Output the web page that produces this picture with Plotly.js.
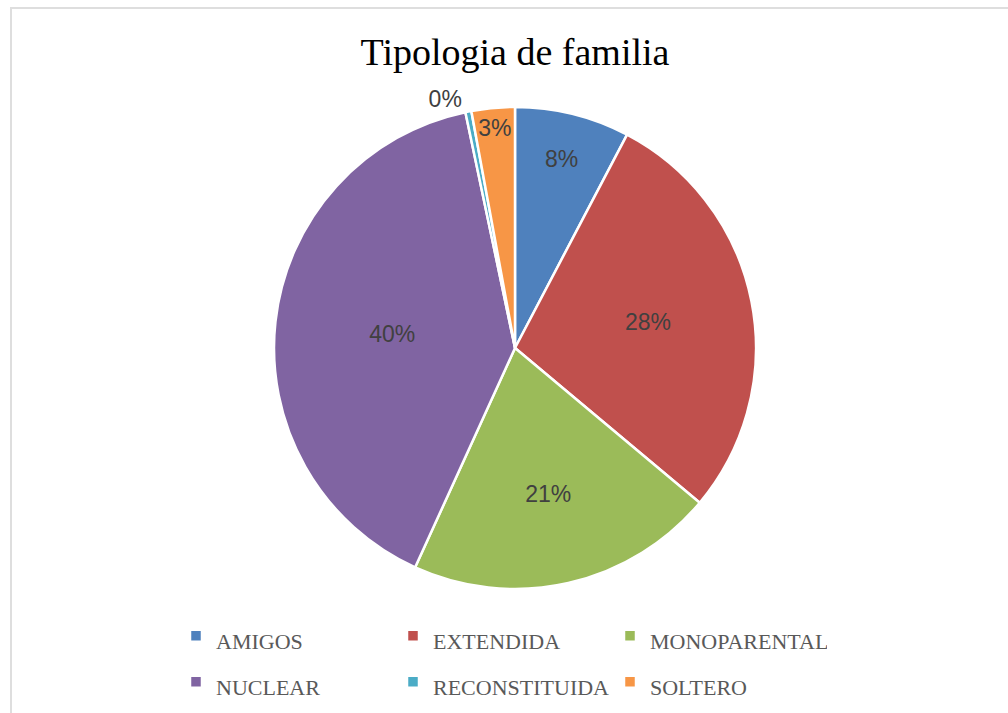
<!DOCTYPE html>
<html>
<head>
<meta charset="utf-8">
<script src="https://cdn.plot.ly/plotly-3.0.1.min.js"></script>
<style>
  html, body { margin: 0; padding: 0; background: #ffffff; }
  #wrap { position: relative; width: 1008px; height: 713px; overflow: hidden; }
  #chart { position: absolute; left: 0; top: 0; width: 1008px; height: 713px; }
  #frame { position: absolute; left: 10px; top: 7px; width: 1100px; height: 800px;
           border: 2px solid #dedede; pointer-events: none; box-sizing: border-box; }
</style>
</head>
<body>
<div id="wrap">
  <div id="chart"></div>
  <div id="frame"></div>
</div>
<script>
const categories = ['AMIGOS', 'EXTENDIDA', 'MONOPARENTAL', 'NUCLEAR', 'RECONSTITUIDA', 'SOLTERO'];
const shares = [7.7, 28.4, 20.7, 39.9, 0.4, 2.9];
const sliceColors = ['#4F81BD', '#C0504D', '#9BBB59', '#8064A2', '#4BACC6', '#F79646'];
const chartTitle = 'Tipologia de familia';

// legend rows are spaced like the original; the visible legend text uses a smaller size
const legendLabels = categories.map(c => '<span style="font-size:22px">' + c + '</span>');
const labelPlacement = ['inside', 'inside', 'inside', 'inside', 'outside', 'inside'];

const trace = {
  type: 'pie',
  labels: legendLabels,
  values: shares,
  sort: false,
  direction: 'clockwise',
  rotation: 0,
  marker: { colors: sliceColors, line: { color: '#ffffff', width: 2.5 } },
  texttemplate: '%{percent:.0%}',
  textposition: labelPlacement,
  insidetextorientation: 'horizontal',
  textfont: { family: 'Liberation Sans, Arial, sans-serif', size: 23, color: '#404040' },
  outsidetextfont: { family: 'Liberation Sans, Arial, sans-serif', size: 23, color: '#404040' },
  hoverinfo: 'label+percent',
  domain: { x: [0.0273, 1], y: [0, 1] }
};

const layout = {
  width: 1008,
  height: 713,
  paper_bgcolor: '#ffffff',
  plot_bgcolor: '#ffffff',
  margin: { l: 176, r: 172, t: 107, b: 124, autoexpand: false },
  title: {
    text: chartTitle,
    font: { family: 'Liberation Serif, Times New Roman, serif', size: 38, color: '#000000' },
    x: 0.5136, xref: 'paper', xanchor: 'center',
    y: 1 - 52 / 713, yref: 'container', yanchor: 'middle'
  },
  showlegend: true,
  legend: {
    orientation: 'h',
    x: 0, xanchor: 'left',
    y: -0.039, yanchor: 'top',
    entrywidth: 172,
    itemwidth: 30,
    valign: 'bottom',
    font: { family: 'Liberation Serif, Times New Roman, serif', size: 33, color: '#595959' },
    traceorder: 'normal'
  },
  uniformtext: { mode: 'show', minsize: 23 }
};

Plotly.newPlot('chart', [trace], layout, { displayModeBar: false, staticPlot: true });
</script>
</body>
</html>
